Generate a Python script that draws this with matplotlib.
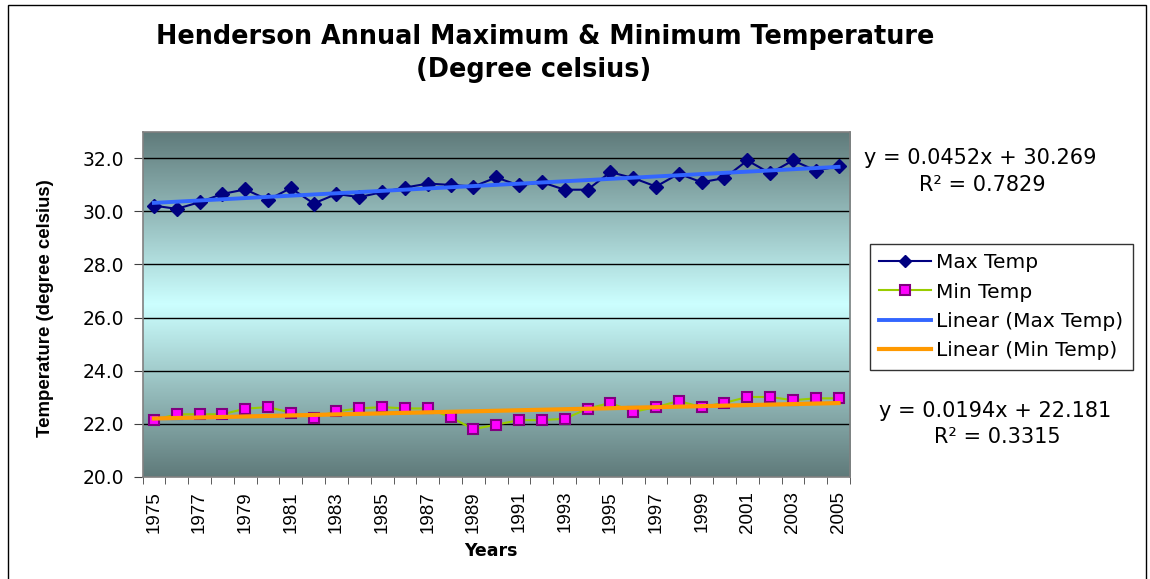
import numpy as np
import matplotlib.pyplot as plt
from matplotlib.colors import LinearSegmentedColormap
from matplotlib.lines import Line2D
from matplotlib.patches import Rectangle

# Henderson annual max / min temperature
years = list(range(1975, 2006))
max_temp = [30.21, 30.09, 30.34, 30.65, 30.82, 30.43, 30.87, 30.29, 30.65, 30.53,
            30.72, 30.89, 31.04, 30.99, 30.93, 31.27, 30.97, 31.09, 30.81, 30.81,
            31.47, 31.25, 30.93, 31.41, 31.09, 31.25, 31.91, 31.43, 31.91, 31.53,
            31.69]
min_temp = [22.14, 22.36, 22.36, 22.36, 22.57, 22.63, 22.42, 22.23, 22.47, 22.58,
            22.63, 22.58, 22.58, 22.25, 21.80, 21.97, 22.14, 22.14, 22.19, 22.57,
            22.79, 22.45, 22.63, 22.86, 22.63, 22.79, 23.01, 23.01, 22.89, 22.96,
            22.96]
# trendline coefficients (slope, intercept) and R^2 printed on the chart
max_fit = (0.0452, 30.269)
min_fit = (0.0194, 22.181)
max_r2 = 0.7829
min_r2 = 0.3315
y_ticks = [20, 22, 24, 26, 28, 30, 32]

W, H = 1150, 579
fig = plt.figure(figsize=(W / 100, H / 100), dpi=100)
fig.patch.set_facecolor('white')
ax = fig.add_axes([142.5 / W, 1 - 477 / H, (850 - 142.5) / W, (477 - 131.5) / H])

x = np.arange(1, len(years) + 1)
ax.set_xlim(0.5, len(years) + 0.5)
ax.set_ylim(20, 33)

# dark-light-dark background like the excel fill
bg = LinearSegmentedColormap.from_list('bg', ['#5f7a7a', '#ccffff', '#5f7a7a'])
ax.imshow(np.linspace(0, 1, 256).reshape(-1, 1), cmap=bg, origin='lower',
          extent=[0.5, len(years) + 0.5, 20, 33], aspect='auto', zorder=0)

for v in y_ticks[1:]:
    ax.axhline(v, color='black', lw=1, zorder=1)

ax.plot(x, max_temp, color='#000080', lw=1.5, marker='D', ms=7, zorder=3)
ax.plot(x, min_temp, color='#99cc00', lw=1.5, marker='s', ms=7.5,
        mfc='#ff00ff', mec='#800080', mew=1.5, zorder=3)
ax.plot(x, max_fit[0] * x + max_fit[1], color='#3366ff', lw=2.8, zorder=4)
ax.plot(x, min_fit[0] * x + min_fit[1], color='#ff9900', lw=3, zorder=4)

for s in ax.spines.values():
    s.set_color('#808080')
    s.set_linewidth(1.2)

ax.set_yticks(y_ticks)
ax.set_yticklabels([f'{v:.1f}' for v in y_ticks], fontsize=13.5)
ax.tick_params(axis='y', length=6.5, pad=7, color='#404040')

ax.set_xticks(x[::2])
ax.set_xticklabels([str(y) for y in years[::2]], rotation=90, fontsize=13.5,
                   family=['Liberation Sans'])
ax.set_xticks(np.arange(0.5, len(years) + 1, 1), minor=True)
ax.tick_params(axis='x', which='major', length=0, pad=10)
ax.tick_params(axis='x', which='minor', length=5, color='#404040')

fig.text(46 / W, 1 - 308 / H, 'Temperature (degree celsius)', rotation=90,
         ha='center', va='center', fontsize=13.4, fontweight='bold',
         family=['Liberation Sans'])
fig.text(491 / W, 1 - 551 / H, 'Years', ha='center', va='center',
         fontsize=12.5, fontweight='bold')

fig.text(545 / W, 1 - 37 / H, 'Henderson Annual Maximum & Minimum Temperature',
         ha='center', va='center', fontsize=18.4, fontweight='bold')
fig.text(534 / W, 1 - 70 / H, '(Degree celsius)',
         ha='center', va='center', fontsize=18.4, fontweight='bold')

fig.text(980 / W, 1 - 158 / H, f'y = {max_fit[0]}x + {max_fit[1]}',
         ha='center', va='center', fontsize=15)
fig.text(982 / W, 1 - 185 / H, f'R\u00b2 = {max_r2}',
         ha='center', va='center', fontsize=15)
fig.text(995 / W, 1 - 411 / H, f'y = {min_fit[0]}x + {min_fit[1]}',
         ha='center', va='center', fontsize=15)
fig.text(997 / W, 1 - 437 / H, f'R\u00b2 = {min_r2}',
         ha='center', va='center', fontsize=15)

handles = [
    Line2D([], [], color='#000080', lw=1.5, marker='D', ms=6),
    Line2D([], [], color='#99cc00', lw=1.5, marker='s', ms=7,
           mfc='#ff00ff', mec='#800080', mew=1.5),
    Line2D([], [], color='#3366ff', lw=2.8),
    Line2D([], [], color='#ff9900', lw=3),
]
labels = ['Max Temp', 'Min Temp', 'Linear (Max Temp)', 'Linear (Min Temp)']
leg = fig.legend(handles, labels, loc='upper left',
                 bbox_to_anchor=(870 / W, 1 - 244 / H), borderaxespad=0,
                 fontsize=14.5, frameon=True, fancybox=False, edgecolor='black',
                 handlelength=2.6, handletextpad=0.25, labelspacing=0.52,
                 borderpad=0.45)
leg.get_frame().set_linewidth(1)

# outer chart border
fig.add_artist(Rectangle((8 / W, -0.05), (1146 - 8) / W, 1 - 5 / H + 0.05,
                         transform=fig.transFigure, fill=False,
                         edgecolor='black', lw=1))

fig.savefig('out.png', dpi=100)
